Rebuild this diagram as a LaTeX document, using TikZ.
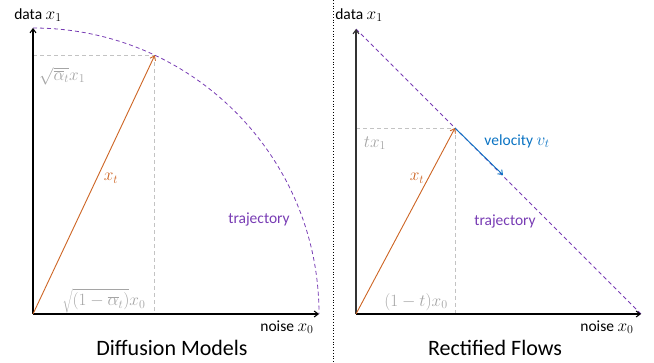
\documentclass[tikz,border=0pt]{standalone}
\usepackage{fontspec}
\setmainfont{Carlito}
\usetikzlibrary{arrows.meta}
\definecolor{orng}{RGB}{205,100,35}
\definecolor{purp}{RGB}{120,60,180}
\definecolor{blu}{RGB}{10,115,195}
\definecolor{lgray}{RGB}{195,195,195}
\definecolor{tgray}{RGB}{165,165,165}
\newcommand{\mth}[1]{{\fontsize{17}{19}\selectfont$#1$}}
\begin{document}
\begin{tikzpicture}[x=1pt,y=1pt,
  axis/.style={line width=1.1pt,-{Straight Barb[length=4pt,width=6pt]}},
  guide/.style={lgray,line width=0.8pt,dash pattern=on 4pt off 3pt},
  traj/.style={purp,line width=0.8pt,dash pattern=on 4pt off 3pt},
  vec/.style={line width=0.9pt,-{Straight Barb[length=4pt,width=6pt]}},
  lbl/.style={font=\fontsize{15.5}{18}\selectfont,inner sep=0pt},
  mlbl/.style={font=\fontsize{16.5}{19}\selectfont,inner sep=0pt,text=tgray},
  ttl/.style={font=\fontsize{22}{26}\selectfont,inner sep=0pt}]
\useasboundingbox (0,0) rectangle (654,362);
% divider
\coordinate (dtop) at (333,362);
\coordinate (dbot) at (333,0);
\draw[line width=0.8pt,dotted] (dtop) -- (dbot);
% ---------- left panel ----------
\coordinate (o1) at (33,48);
\coordinate (y1) at (33,334);
\coordinate (x1) at (319,48);
\coordinate (p1) at (154.8,306.8);
\coordinate (p1y) at (33,306.8);
\coordinate (p1x) at (154.8,48);
\draw[guide] (p1y) -- (p1);
\draw[guide] (p1) -- (p1x);
\draw[traj] (y1) arc[start angle=90,end angle=0,radius=286pt];
\draw[axis] (o1) -- (y1);
\draw[axis] (o1) -- (x1);
\draw[vec,orng] (o1) -- (p1);
\node[lbl] (data1) at (38,347) {data \mth{x_1}};
\node[mlbl,anchor=west] (a1) at (39,286) {$\sqrt{\overline{\alpha}_t}x_1$};
\node[lbl,text=orng] (xt1) at (111,184) {\mth{x_t}};
\node[lbl,text=purp] (tr1) at (259,143) {trajectory};
\node[mlbl] (b1) at (104,61) {$\sqrt{(1-\overline{\alpha}_t)}x_0$};
\node[lbl] (n1) at (287,35) {noise \mth{x_0}};
\node[ttl] (t1) at (172,14) {Diffusion Models};
% ---------- right panel ----------
\coordinate (o2) at (356,48);
\coordinate (y2) at (356,333);
\coordinate (x2) at (641,48);
\coordinate (p2) at (455,234);
\coordinate (p2y) at (356,234);
\coordinate (p2x) at (455,48);
\coordinate (v2) at (503,187);
\draw[guide] (p2y) -- (p2);
\draw[guide] (p2) -- (p2x);
\draw[traj] (y2) -- (x2);
\draw[axis,black!80] (o2) -- (y2);
\draw[axis] (o2) -- (x2);
\draw[vec,orng] (o2) -- (p2);
\draw[vec,blu] (p2) -- (v2);
\node[lbl] (data2) at (359,347) {data \mth{x_1}};
\node[mlbl] (a2) at (375,219) {$tx_1$};
\node[lbl,text=blu] (vel) at (517,221) {velocity \mth{v_t}};
\node[lbl,text=orng] (xt2) at (417,184) {\mth{x_t}};
\node[lbl,text=purp] (tr2) at (505,141) {trajectory};
\node[mlbl] (b2) at (416,60) {$(1-t)x_0$};
\node[lbl] (n2) at (607,35) {noise \mth{x_0}};
\node[ttl] (t2) at (495,14) {Rectified Flows};
\end{tikzpicture}
\end{document}
